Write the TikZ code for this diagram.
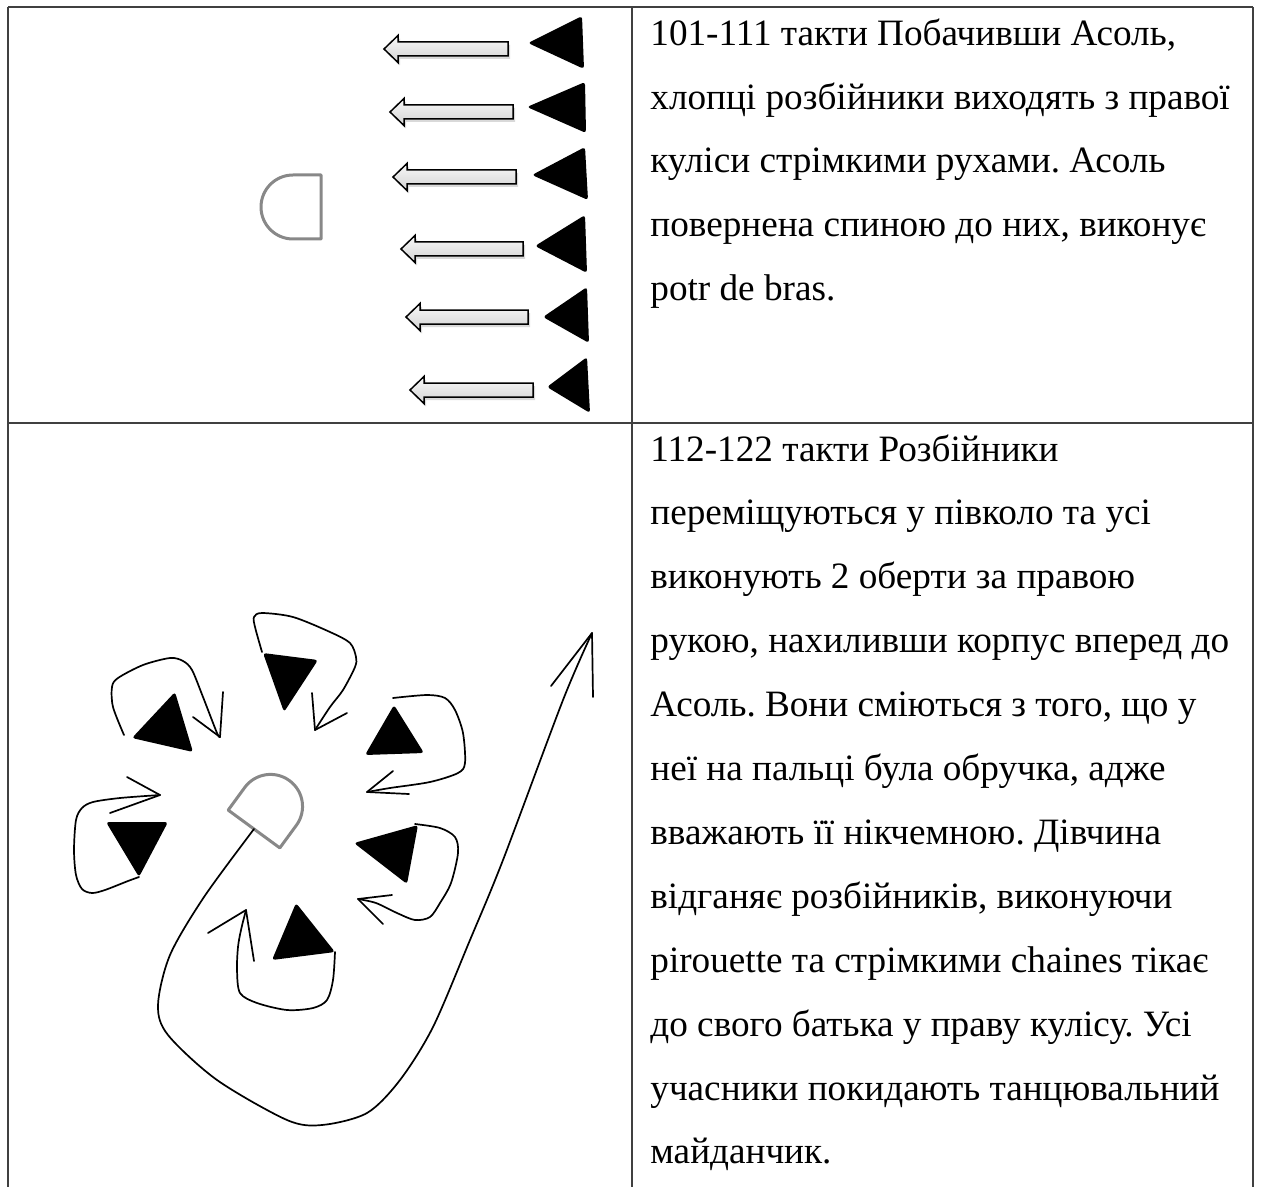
\documentclass[tikz,border=0pt]{standalone}
\usepackage{fontspec}
\setmainfont{Liberation Serif}
\usetikzlibrary{shadows}
\frenchspacing
\definecolor{asolgray}{HTML}{888888}
\newcommand{\runner}[3]{\path[runarrow] (#1,#2) -- (#1+14,#2-13.5) -- (#1+14,#2-7) -- (#3,#2-7) -- (#3,#2+7) -- (#1+14,#2+7) -- (#1+14,#2+13.5) -- cycle;}

\begin{document}
\begin{tikzpicture}[x=0.5pt,y=-0.5pt,
   grid/.style={line width=1pt,black!75},
   txt/.style={anchor=base west,inner sep=0pt,font=\fontsize{18.6}{32}\selectfont},
   boy/.style={fill=black,rounded corners=1.5pt},
   runarrow/.style={draw=black,line width=0.75pt,top color=gray!5,bottom color=gray!35,
      drop shadow={shadow xshift=1pt,shadow yshift=-1.5pt,opacity=0.3}},
   move/.style={line width=0.85pt,line cap=round,line join=round},
   asolline/.style={draw=asolgray,line width=1.5pt,line join=round},
   asol/.pic={\draw[asolline] (0,-32) -- (-28,-32) arc[start angle=270,end angle=90,radius=32] -- (0,32) -- cycle;}]
   \useasboundingbox (0,0) rectangle (1261,1187);
   \draw[grid] (8,7) -- (1253,7);
   \draw[grid] (8,423) -- (1253,423);
   \draw[grid] (8,7) -- (8,1187);
   \draw[grid] (632,7) -- (632,1187);
   \draw[grid] (1253,7) -- (1253,1187);
   \foreach \t [count=\i] in {{101-111 такти Побачивши Асоль,},{хлопці розбійники виходять з правої},
      {куліси стрімкими рухами. Асоль},{повернена спиною до них, виконує},{potr de bras.}}
      \node[txt] (firstrow\i) at (650,{46+63.5*(\i-1)}) {\t};
   \foreach \t [count=\i] in {{112-122 такти Розбійники},{переміщуються у півколо та усі},
      {виконують 2 оберти за правою},{рукою, нахиливши корпус вперед до},
      {Асоль. Вони сміються з того, що у},{неї на пальці була обручка, адже},
      {вважають її нікчемною. Дівчина},{відганяє розбійників, виконуючи},
      {pirouette та стрімкими chaines тікає},{до свого батька у праву кулісу. Усі},
      {учасники покидають танцювальний},{майданчик.}}
      \node[txt] (secondrow\i) at (650,{461+63.9*(\i-1)}) {\t};
   \runner{384}{49}{508}
   \runner{390}{112}{513}
   \runner{393}{177}{516}
   \runner{401}{249}{523}
   \runner{406}{317}{528}
   \runner{410}{390}{533}
   \fill[boy] (528,43) -- (582,16) -- (584,69) -- cycle;
   \fill[boy] (527,107) -- (585,82) -- (586,133) -- cycle;
   \fill[boy] (532,175) -- (585,147) -- (588,200) -- cycle;
   \fill[boy] (535,246) -- (585,215) -- (587,273) -- cycle;
   \fill[boy] (543,317) -- (587,287) -- (589,343) -- cycle;
   \fill[boy] (547,387) -- (587,357) -- (590,413) -- cycle;
   \pic at (321,207) {asol};
   \pic[rotate=-126.2] at (254,829) {asol};
   \fill[boy] (175,692) -- (132,738) -- (193,752) -- cycle;
   \fill[boy] (263,653) -- (318,660) -- (284,712) -- cycle;
   \fill[boy] (394,705) -- (365,755) -- (424,753) -- cycle;
   \fill[boy] (354,843) -- (418,825) -- (407,884) -- cycle;
   \fill[boy] (296,903) -- (272,960) -- (335,952) -- cycle;
   \fill[boy] (106,822) -- (168,822) -- (139,877) -- cycle;
   \draw[move] plot[smooth] coordinates {(124,735) (113,707) (112,687) (118,678) (143,665) (170,658) (183,661) (192,670) (203,697) (217,733) (220,737)};
   \draw[move] (223,692) -- (220,737) -- (193,717);
   \draw[move] plot[smooth] coordinates {(262,652) (255,627) (254,617) (262,613) (293,617) (330,632) (350,643) (356,657) (355,667) (343,690) (330,707) (315,730)};
   \draw[move] (312,693) -- (315,730) -- (347,713);
   \draw[move] plot[smooth] coordinates {(393,698) (427,695) (445,698) (455,710) (463,733) (465,763) (458,773) (430,782) (390,788) (367,792)};
   \draw[move] (393,771) -- (367,792) -- (409,794);
   \draw[move] plot[smooth] coordinates {(415,824) (440,828) (455,837) (458,853) (451,883) (440,903) (430,917) (415,920) (397,913) (376,903) (358,899)};
   \draw[move] (392,895) -- (358,899) -- (383,924);
   \draw[move] plot[smooth] coordinates {(335,952) (333,980) (327,1000) (313,1008) (287,1010) (257,1003) (240,993) (237,970) (238,947) (241,930) (246,910)};
   \draw[move] (208,933) -- (246,910) -- (254,961);
   \draw[move] plot[smooth] coordinates {(139,877) (128,881) (105,890) (92,893) (82,889) (76,875) (74,850) (76,820) (82,808) (93,802) (120,798) (160,795)};
   \draw[move] (127,777) -- (160,795) -- (110,813);
   \draw[move] plot[smooth] coordinates {(254,829) (204,897) (170,955) (158,1005) (168,1035) (217,1080) (287,1120) (322,1125) (367,1113) (400,1080) (433,1027) (470,940) (503,860) (563,700) (592,633)};
   \draw[move] (551,686) -- (592,633) -- (593,697);
\end{tikzpicture}
\end{document}
